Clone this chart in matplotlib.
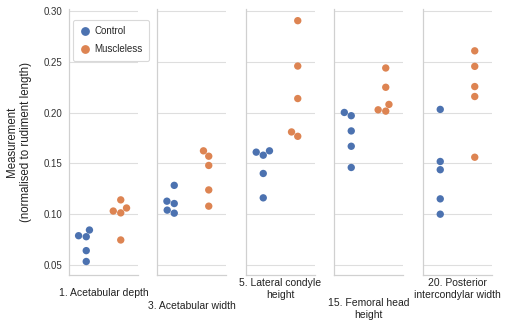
import numpy as np
import pandas as pd
import matplotlib
matplotlib.use("Agg")
import matplotlib.pyplot as plt
import seaborn as sns

panels = ["1. Acetabular depth", "3. Acetabular width", "5. Lateral condyle\nheight",
          "15. Femoral head\nheight", "20. Posterior\nintercondylar width"]
control = [
    [0.0843, 0.0787, 0.0777, 0.0640, 0.0533],
    [0.1283, 0.1127, 0.1104, 0.1039, 0.1009],
    [0.1623, 0.1610, 0.1580, 0.1400, 0.1160],
    [0.2001, 0.1969, 0.1819, 0.1668, 0.1459],
    [0.2031, 0.1518, 0.1437, 0.1150, 0.0999],
]
muscleless = [
    [0.1140, 0.1060, 0.1030, 0.1012, 0.0745],
    [0.1623, 0.1570, 0.1479, 0.1238, 0.1078],
    [0.2905, 0.2458, 0.2138, 0.1809, 0.1766],
    [0.2439, 0.2249, 0.2080, 0.2027, 0.2014],
    [0.2608, 0.2455, 0.2256, 0.2158, 0.1560],
]
groups = ["Control", "Muscleless"]
colors = ["#4C72B0", "#DD8452"]
yticks = [0.05, 0.10, 0.15, 0.20, 0.25, 0.30]

sns.set_theme(style="whitegrid")
plt.rcParams['font.family'] = ['Liberation Sans', 'DejaVu Sans']

fig = plt.figure(figsize=(5.12, 3.21), dpi=100)
lefts = [69, 157, 246, 334, 423]
label_y = [293, 306, 289, 309, 289]
W, H = 512, 321

for i, name in enumerate(panels):
    ax = fig.add_axes([lefts[i] / W, 1 - 275 / H, 69 / W, (275 - 9) / H])
    df = pd.DataFrame({
        "group": [groups[0]] * len(control[i]) + [groups[1]] * len(muscleless[i]),
        "value": control[i] + muscleless[i],
    })
    sns.swarmplot(data=df, x="group", y="value", hue="group", order=groups,
                  hue_order=groups, palette=colors, size=5.3, ax=ax, legend=False)
    ax.set_xlim(-0.5, 1.5)
    ax.set_ylim(0.040, 0.302)
    ax.set_yticks(yticks)
    ax.set_xticks([])
    ax.set_xlabel("")
    ax.set_ylabel("")
    ax.grid(axis="x", visible=False)
    ax.grid(axis="y", color="#dedede", linewidth=0.8)
    for s in ["top", "right"]:
        ax.spines[s].set_visible(False)
    for s in ["left", "bottom"]:
        ax.spines[s].set_color("#d0d0d0")
        ax.spines[s].set_linewidth(0.9)
    if i == 0:
        ax.set_yticklabels([f"{t:.2f}" for t in yticks], fontsize=7, color="#333333")
        ax.tick_params(axis="y", pad=5, length=0)
        ax.set_ylabel("Measurement\n(normalised to rudiment length)", fontsize=8.3,
                      color="#222222", labelpad=8)
        handles = [plt.Line2D([], [], marker="o", linestyle="", color=c, markersize=5.3)
                   for c in colors]
        leg = ax.legend(handles, groups, loc="upper left", bbox_to_anchor=(0.055, 0.958),
                        fontsize=7, frameon=True, handletextpad=0.25, labelspacing=0.8,
                        borderpad=0.65, handlelength=1.3, borderaxespad=0.0)
        leg.get_frame().set_edgecolor("#d0d0d0")
        leg.get_frame().set_linewidth(0.8)
    else:
        ax.set_yticklabels([])
        ax.tick_params(axis="y", length=0)
    fig.text((lefts[i] + 34.5) / W, 1 - label_y[i] / H, name, ha="center", va="center",
             fontsize=7.5, color="#222222", linespacing=1.15)

fig.savefig("out.png", dpi=100)
